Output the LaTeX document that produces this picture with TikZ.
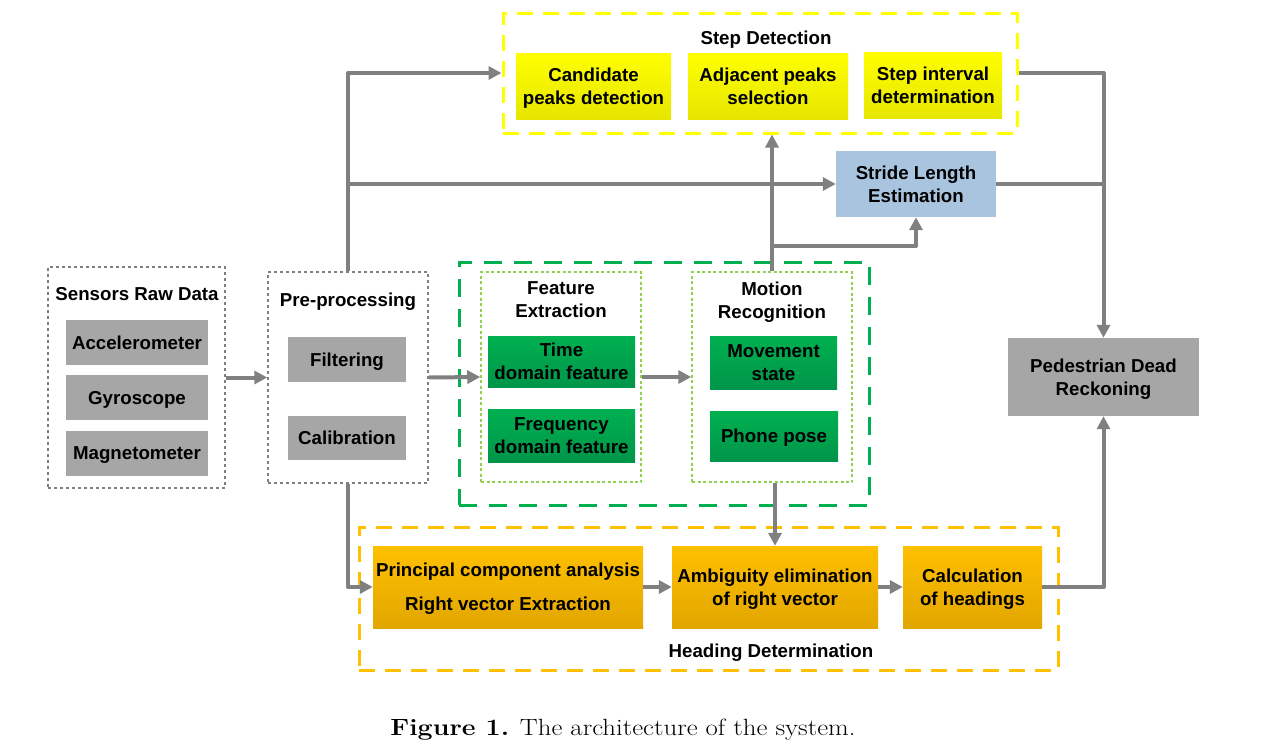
\documentclass[tikz,border=0pt]{standalone}
\usepackage{fontspec}
\setsansfont{Liberation Sans}
\usetikzlibrary{arrows.meta}
\definecolor{boxgray}{HTML}{A6A6A6}
\definecolor{lineg}{HTML}{808080}
\definecolor{stepy}{HTML}{FFFF00}
\definecolor{stepyb}{HTML}{E6E600}
\definecolor{sblue}{HTML}{A9C4DE}
\definecolor{dgreen}{HTML}{00B050}
\definecolor{dgreenb}{HTML}{00954A}
\definecolor{lgreen}{HTML}{92D050}
\definecolor{orng}{HTML}{FFC000}
\definecolor{orngb}{HTML}{E2A600}
\definecolor{dotgray}{HTML}{7F7F7F}
\begin{document}
\begin{tikzpicture}[x=1pt,y=-1pt,
  txt/.style={font=\sffamily\bfseries\fontsize{18.7}{23}\selectfont, align=center, inner sep=0pt, text depth=0pt},
  graybox/.style={txt, fill=boxgray},
  ybox/.style={txt, top color=stepy, bottom color=stepyb, minimum height=66pt},
  gbox/.style={txt, top color=dgreen, bottom color=dgreenb},
  obox/.style={txt, top color=orng, bottom color=orngb, minimum height=82pt},
  ydash/.style={draw=stepy, line width=3pt, dash pattern=on 16pt off 10pt, inner sep=0pt},
  gdash/.style={draw=dgreen, line width=3pt, dash pattern=on 18pt off 12pt, inner sep=0pt},
  odash/.style={draw=orng, line width=3pt, dash pattern=on 16pt off 10pt, inner sep=0pt},
  dotbox/.style={draw=dotgray, line width=1.5pt, dash pattern=on 3pt off 3pt, inner sep=0pt},
  ldot/.style={draw=lgreen, line width=1.5pt, dash pattern=on 3pt off 2.5pt, inner sep=0pt},
  ln/.style={draw=lineg, line width=4pt, line join=round},
  arr/.style={ln, -{Triangle[length=13pt,width=13pt]}}
]
\useasboundingbox[fill=white] (0,0) rectangle (1269,744);

% containers
\node[ydash, minimum width=514pt, minimum height=120pt] (step) at (760,73) {};
\node[dotbox, minimum width=177pt, minimum height=221pt] (sens) at (136.5,377.5) {};
\node[dotbox, minimum width=160pt, minimum height=211pt] (pre) at (348,377.5) {};
\node[gdash, minimum width=410pt, minimum height=243pt] (green) at (664,383.5) {};
\node[ldot, minimum width=160pt, minimum height=210pt] (fe) at (561,377) {};
\node[ldot, minimum width=160pt, minimum height=210pt] (mr) at (772,377) {};
\node[odash, minimum width=699pt, minimum height=143pt] (head) at (708.5,598.5) {};

% titles
\node[txt] (tstep) at (766,38) {Step Detection};
\node[txt] (tsens) at (137,294) {Sensors Raw Data};
\node[txt] (tpre) at (348,300) {Pre-processing};
\node[txt] (tfe) at (561,300) {Feature\\Extraction};
\node[txt] (tmr) at (772,300) {Motion\\Recognition};
\node[txt] (thead) at (771,651) {Heading Determination};

% step detection boxes
\node[ybox, minimum width=155pt] (cand) at (593.5,86) {Candidate\\peaks detection};
\node[ybox, minimum width=160pt] (adj) at (768,86) {Adjacent peaks\\selection};
\node[ybox, minimum width=138pt] (sint) at (933,85) {Step interval\\determination};
\node[txt, fill=sblue, minimum width=160pt, minimum height=66pt] (stride) at (916,184) {Stride Length\\Estimation};

% sensors
\node[graybox, minimum width=142pt, minimum height=45pt] (acc) at (137,342.5) {Accelerometer};
\node[graybox, minimum width=142pt, minimum height=45pt] (gyr) at (137,397.5) {Gyroscope};
\node[graybox, minimum width=142pt, minimum height=45pt] (mag) at (137,453.5) {Magnetometer};
% pre-processing
\node[graybox, minimum width=118pt, minimum height=45pt] (filt) at (347,359.5) {Filtering};
\node[graybox, minimum width=118pt, minimum height=44pt] (cal) at (347,438) {Calibration};
% features
\node[gbox, minimum width=147pt, minimum height=51pt] (time) at (561.5,361.5) {Time\\domain feature};
\node[gbox, minimum width=147pt, minimum height=53pt] (freq) at (561.5,435.5) {Frequency\\domain feature};
\node[gbox, minimum width=127pt, minimum height=53pt] (move) at (773.5,362.5) {Movement\\state};
\node[gbox, minimum width=128pt, minimum height=50pt] (phone) at (774,436) {Phone pose};
% heading
\node[obox, minimum width=270pt] (pca) at (508,587) {Principal component analysis\\[11pt]Right vector Extraction};
\node[obox, minimum width=206pt] (amb) at (775,587) {Ambiguity elimination\\of right vector};
\node[obox, minimum width=139pt] (calc) at (972.5,587) {Calculation\\of headings};
% PDR
\node[graybox, minimum width=191pt, minimum height=78pt] (pdr) at (1103.5,377) {Pedestrian Dead\\Reckoning};

% connectors
\draw[arr] (sens.east) -- (pre.west);
\draw[arr] (pre.east) -- (fe.west);
\draw[arr] (fe.east) -- (mr.west);
\draw[arr] (pre.north) |- (step.west);
\draw[arr] (pre.north |- stride.west) -- (stride.west);
\draw[arr] (mr.north) -- (mr.north |- step.south);
\coordinate (j1) at (772,246);
\draw[arr] (j1) -| (stride.south);
\draw[arr] (step.east) -| (pdr.north);
\draw[ln] (stride.east) -- (stride.east -| pdr.north);
\draw[arr] (pre.south) |- (pca.west);
\draw[arr] (pca.east) -- (amb.west);
\draw[arr] (amb.east) -- (calc.west);
\draw[arr] (amb.north |- mr.south) -- (amb.north);
\draw[arr] (calc.east) -| (pdr.south);

% caption
\node[font=\rmfamily\fontsize{23.5}{27}\selectfont, inner sep=0pt, xscale=1.14, transform shape] (cap) at (623,729.5) {\textbf{Figure 1.} The architecture of the system.};
\end{tikzpicture}
\end{document}
